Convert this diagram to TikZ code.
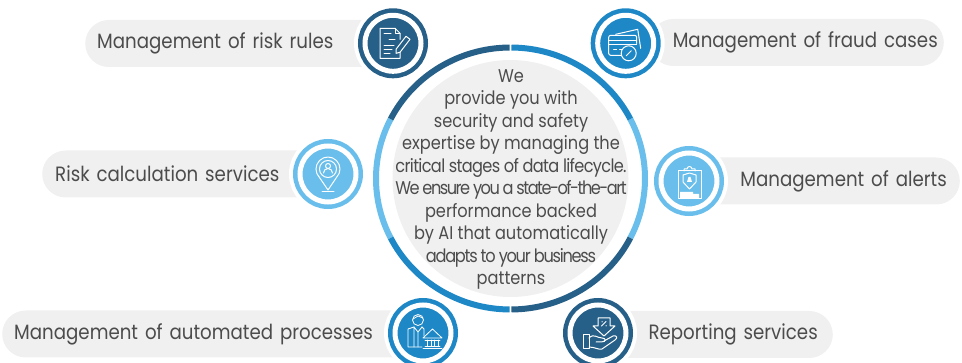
\documentclass[tikz,border=0pt]{standalone}
\usepackage{fontspec}
\usepackage{tikz}
\usepackage{xcolor}
\setmainfont[FakeStretch=0.88]{Poppins}
\newcommand{\tightline}[2]{{\addfontfeature{LetterSpace=#1}#2}}
\definecolor{ring-dark}{HTML}{265F87}
\definecolor{ring-mid}{HTML}{1E88C7}
\definecolor{ring-light}{HTML}{69BEEB}
\definecolor{pill-gray}{HTML}{F0F0F0}
\definecolor{label-gray}{HTML}{4C4C4C}
\tikzset{
    pill/.style = {fill=pill-gray, rectangle, rounded corners=23.5pt, minimum height=47pt, inner xsep=12pt, inner ysep=0pt, text=label-gray, font=\fontsize{20.7}{24}\selectfont},
    badge/.style = {circle, minimum size=56pt, inner sep=0pt, line width=5pt, draw=white, fill=#1, preaction={draw=white, line width=22pt}, preaction={draw=#1, line width=14pt}},
    arc-seg/.style = {draw=#1, line width=6pt},
    icon-line/.style = {draw=white, line width=1pt, line join=round, line cap=round},
}

\begin{document}
\begin{tikzpicture}[x=1pt, y=-1pt]
\useasboundingbox (0,0) rectangle (962,363);

% middle
\coordinate (center) at (510.5,178.5);
\draw[arc-seg=ring-light] (center) ++(-153:134.5 and 131) arc[start angle=-153, end angle=-207, x radius=134.5, y radius=131];
\draw[arc-seg=ring-light] (center) ++(-333:134.5 and 131) arc[start angle=-333, end angle=-387, x radius=134.5, y radius=131];
\draw[arc-seg=ring-dark] (center) ++(-90.4:134.5 and 131) arc[start angle=-90.4, end angle=-153, x radius=134.5, y radius=131];
\draw[arc-seg=ring-mid] (center) ++(-89.6:134.5 and 131) arc[start angle=-89.6, end angle=-27, x radius=134.5, y radius=131];
\draw[arc-seg=ring-mid] (center) ++(-207:134.5 and 131) arc[start angle=-207, end angle=-269.6, x radius=134.5, y radius=131];
\draw[arc-seg=ring-dark] (center) ++(-270.4:134.5 and 131) arc[start angle=-270.4, end angle=-333, x radius=134.5, y radius=131];
\fill[pill-gray] (center) ellipse[x radius=118, y radius=118.5];
\node[text=label-gray, align=center, inner sep=0pt, font=\fontsize{18.4}{22.44}\selectfont] (story) at (511,179.5) {We\\
provide you with\\
security and safety\\
expertise by managing the\\
\tightline{-3.6}{critical stages of data lifecycle.}\\
\tightline{-8.2}{We ensure you a state-of-the-art}\\
performance backed\\
by AI that automatically\\
\tightline{-6.9}{adapts to your business}\\
patterns};

% labels
\node[pill, anchor=west, text width=284pt, align=left] (rules) at (85,43.5) {Management of risk rules};
\node[pill, anchor=east, inner xsep=6pt, text width=282pt, align=right] (fraud) at (944,42.5) {Management of fraud cases};
\node[pill, anchor=west, inner xsep=13pt, text width=260pt, align=left] (calc) at (42,174) {Risk calculation services};
\node[pill, anchor=east, inner xsep=13pt, text width=245pt, align=right] (alerts) at (960,181) {Management of alerts};
\node[pill, anchor=west, text width=397pt, align=left] (automated) at (2,334) {Management of automated processes};
\node[pill, anchor=east, inner xsep=15pt, text width=205pt, align=right] (reporting) at (833,334.5) {Reporting services};

% badges
\node[badge=ring-dark] (rules-badge) at (393,43.3) {};
\node[badge=ring-mid] (fraud-badge) at (625.7,43.3) {};
\node[badge=ring-light] (calc-badge) at (328,174) {};
\node[badge=ring-light] (alerts-badge) at (689,181) {};
\node[badge=ring-mid] (automated-badge) at (423,333) {};
\node[badge=ring-dark] (reporting-badge) at (598,333) {};

% document and pen
\begin{scope}[shift={(rules-badge.center)}, icon-line]
\draw (7,-4) -- (7,-10) -- (2,-15) -- (-13,-15) -- (-13,15) -- (7,15) -- (7,9);
\draw (2,-15) -- (2,-10) -- (7,-10);
\draw (-9,-10) -- (-2,-10) (-4,-4) -- (2,-4) (-9,2) -- (1,2) (-9,6) -- (-1,6) (-9,10) -- (-3,10);
\draw (3,6) -- (13,-7) -- (17,-4) -- (7,9) -- (3,10) -- cycle;
\end{scope}

% credit cards
\begin{scope}[shift={(fraud-badge.center)}, icon-line]
\draw (-10,-9) -- (12,-14) -- (15,5);
\draw[rounded corners=2pt] (-3,12) -- (-17,12) -- (-17,-8) -- (11,-8) -- (11,0);
\draw (-17,-3) -- (11,-3) (-17,1) -- (11,1);
\draw (-12,6) -- (-9,6) (-6,6) -- (-3,6);
\draw[fill=ring-mid] (3,10) circle[radius=7.5];
\draw (0.5,12.5) -- (5.5,7.5);
\end{scope}

% map pin
\begin{scope}[shift={(calc-badge.center)}, icon-line]
\draw (-8.5,3.5) arc[start angle=135, end angle=405, radius=12] -- (0,16) -- cycle;
\draw (0,-5) circle[radius=8.5];
\draw (0,-8) circle[radius=2.5];
\draw (-4.5,-1) arc[start angle=180, end angle=360, radius=4.5];
\draw (-6,18) -- (6,18);
\end{scope}

% clipboard
\begin{scope}[shift={(alerts-badge.center)}, icon-line]
\draw (-11,-10) rectangle (12,18);
\draw (-5,-10) -- (-5,-12) -- (-2,-12) arc[start angle=180, end angle=360, radius=2.5] -- (6,-12) -- (6,-10);
\draw (-6,-6) -- (0.5,-8) -- (7,-6) -- (7,1) -- (0.5,8) -- (-6,1) -- cycle;
\fill[white] (-0.5,-4) -- (1.5,-4) -- (3,1) -- (-2,1) -- cycle;
\fill[white] (-9,11) -- (4,11) -- (4,13) -- (10,13) -- (10,17) -- (-9,17) -- cycle;
\end{scope}

% banker and building
\begin{scope}[shift={(automated-badge.center)}, icon-line, line width=0.8pt]
\draw (-5,-13) circle[radius=5.5];
\draw (-10,-14) -- (-5,-17) -- (0,-15);
\draw (-1,-6) -- (1,-4) -- (1,3) (-9,-6) -- (-15,-4) -- (-15,14) -- (-1,14);
\draw (-9,-6) -- (-5,-1) -- (-1,-6) (-5,-1) -- (-5,14) (-9,-6) -- (-9,14);
\draw (0,5) -- (9.5,-4) -- (19,5) -- cycle;
\draw (2,7) -- (17,7) (2,13) -- (17,13) (0,15.5) -- (19,15.5);
\draw (4,7) -- (4,13) (8,7) -- (8,13) (11,7) -- (11,13) (15,7) -- (15,13);
\end{scope}

% hand and arrow
\begin{scope}[shift={(reporting-badge.center)}, icon-line]
\draw (0,-15) -- (12,-15) -- (12,-7) -- (17,-7) -- (6,3) -- (-5,-7) -- (0,-7) -- cycle;
\draw (3.5,-7) -- (8,-11.5) (4,-11.5) -- (4,-11) (8,-7.5) -- (8,-7);
\draw (-15,2) rectangle (-9,16);
\draw (-9,5) .. controls (-4,0) and (-1,5) .. (4,5) .. controls (8,5) and (9,9) .. (3,9) -- (-2,9);
\draw (6,8) -- (15,3) .. controls (19,2) and (20,5) .. (17,7) -- (4,16) .. controls (0,17) and (-3,14) .. (-9,14);
\end{scope}
\end{tikzpicture}
\end{document}
